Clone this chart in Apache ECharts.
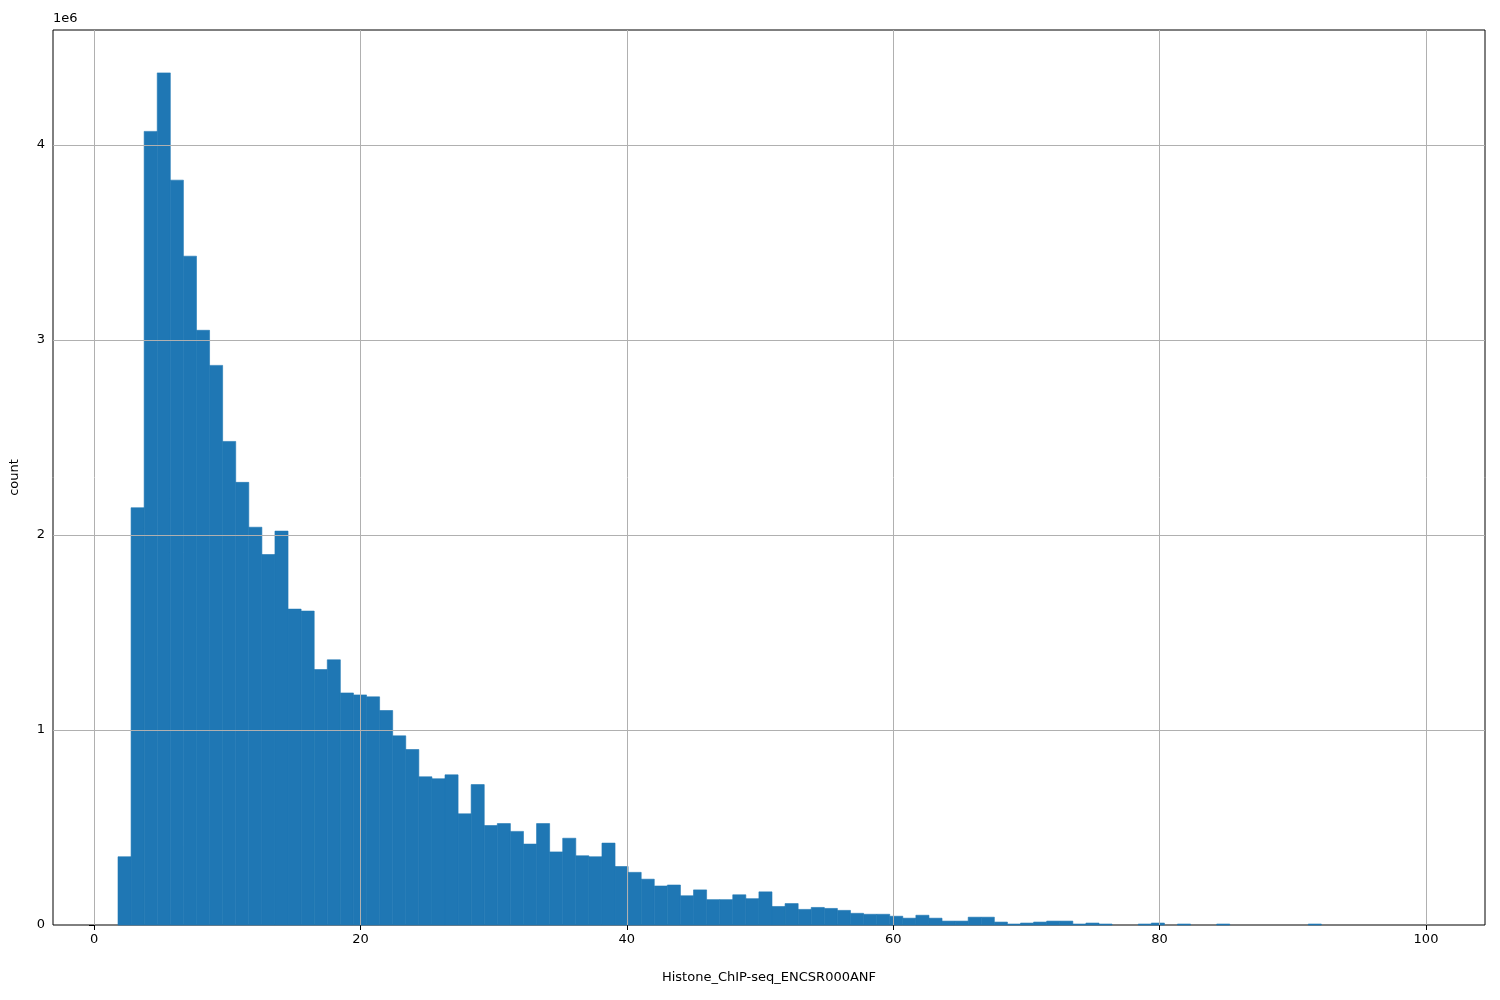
<!DOCTYPE html>
<html>
<head>
<meta charset="utf-8">
<script src="https://cdn.jsdelivr.net/npm/echarts@6/dist/echarts.min.js"></script>
<style>html,body{margin:0;padding:0;background:#fff}#chart{width:1500px;height:1000px}</style>
</head>
<body>
<div id="chart"></div>
<script>
// histogram: 100 bins starting at binStart, width binWidth
const binStart = 1.8;
const binWidth = 0.982;
const counts = [
  0.35, 2.14, 4.07, 4.37, 3.82, 3.43, 3.05, 2.87, 2.48, 2.27,
  2.04, 1.90, 2.02, 1.62, 1.61, 1.31, 1.36, 1.19, 1.18, 1.17,
  1.10, 0.97, 0.90, 0.76, 0.75, 0.77, 0.57, 0.72, 0.51, 0.52,
  0.48, 0.415, 0.52, 0.375, 0.445, 0.355, 0.35, 0.42, 0.30, 0.27,
  0.235, 0.20, 0.205, 0.15, 0.18, 0.13, 0.13, 0.155, 0.135, 0.17,
  0.095, 0.11, 0.08, 0.09, 0.085, 0.075, 0.06, 0.055, 0.055, 0.045,
  0.035, 0.05, 0.035, 0.02, 0.02, 0.04, 0.04, 0.015, 0.005, 0.01,
  0.015, 0.02, 0.02, 0.005, 0.01, 0.005, 0, 0, 0.005, 0.01,
  0, 0.005, 0, 0, 0.005, 0, 0, 0, 0, 0,
  0, 0.005, 0, 0, 0, 0, 0, 0, 0, 0
].map(v => v * 1e6);
const xGrid = [0, 20, 40, 60, 80, 100];
const yGrid = [1e6, 2e6, 3e6, 4e6];

const bins = counts.map((c, i) => [binStart + i * binWidth, binStart + (i + 1) * binWidth, c]);

const chart = echarts.init(document.getElementById('chart'));
const font = 'DejaVu Sans';
chart.setOption({
  animation: false,
  grid: { left: 53, right: 15, top: 30, bottom: 75, show: true, borderColor: '#000', borderWidth: 1 },
  xAxis: {
    type: 'value', min: -3.08, max: 104.43, interval: 20,
    name: 'Histone_ChIP-seq_ENCSR000ANF', nameLocation: 'middle', nameGap: 46,
    nameTextStyle: { color: '#000', fontSize: 13, fontFamily: font },
    axisLine: { show: false }, splitLine: { show: false },
    axisTick: { show: true, length: 5, lineStyle: { color: '#000' }, customValues: xGrid },
    axisLabel: { color: '#000', fontSize: 13, fontFamily: font, customValues: xGrid, margin: 8 }
  },
  yAxis: {
    type: 'value', min: 0, max: 4.59e6, interval: 1e6,
    name: 'count', nameLocation: 'middle', nameGap: 32,
    nameTextStyle: { color: '#000', fontSize: 13, fontFamily: font },
    axisLine: { show: false }, splitLine: { show: false },
    axisTick: { show: true, length: 5, lineStyle: { color: '#000' } },
    axisLabel: { color: '#000', fontSize: 13, fontFamily: font, formatter: v => String(v / 1e6), showMaxLabel: false }
  },
  graphic: [{ type: 'text', left: 53, top: 12, style: { text: '1e6', fill: '#000', font: '13px "DejaVu Sans"' } }],
  series: [{
    type: 'custom',
    data: bins,
    encode: { x: [0, 1], y: 2 },
    renderItem: (params, api) => {
      if (api.value(2) <= 0) return null;
      const p0 = api.coord([api.value(0), api.value(2)]);
      const p1 = api.coord([api.value(1), 0]);
      return { type: 'rect', shape: { x: p0[0], y: p0[1], width: p1[0] - p0[0], height: p1[1] - p0[1] }, style: { fill: '#1f77b4', stroke: '#1f77b4', lineWidth: 0.6 } };
    },
    markLine: {
      silent: true, symbol: 'none', label: { show: false }, animation: false,
      lineStyle: { color: '#b0b0b0', width: 1, type: 'solid' },
      data: xGrid.map(x => ({ xAxis: x })).concat(yGrid.map(y => ({ yAxis: y })))
    }
  }]
});
</script>
</body>
</html>
